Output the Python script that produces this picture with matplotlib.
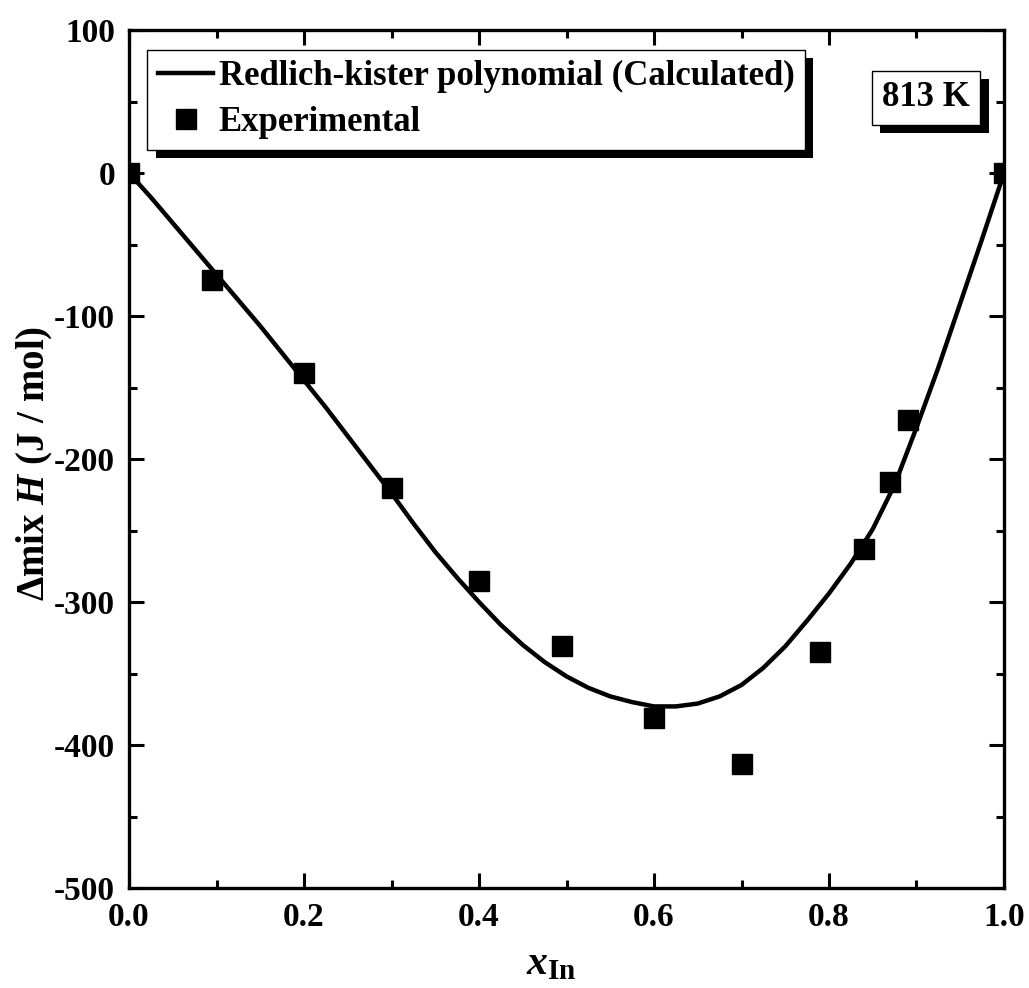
import numpy as np
import matplotlib
matplotlib.use("Agg")
import matplotlib.pyplot as plt
import matplotlib.patheffects as pe
from matplotlib.ticker import MultipleLocator

# experimental points
x_exp = [0.0, 0.095, 0.20, 0.30, 0.40, 0.495, 0.60, 0.70, 0.79, 0.84, 0.87, 0.89, 1.0]
h_exp = [0, -75, -140, -220, -285, -331, -381, -413, -335, -263, -216, -173, 0]

# calculated Redlich-Kister curve
x_calc = [0.0, 0.025, 0.05, 0.075, 0.10, 0.125, 0.15, 0.175, 0.20, 0.225, 0.25,
          0.275, 0.30, 0.325, 0.35, 0.375, 0.40, 0.425, 0.45, 0.475, 0.50,
          0.525, 0.55, 0.575, 0.60, 0.625, 0.65, 0.675, 0.70, 0.725, 0.75,
          0.775, 0.80, 0.825, 0.85, 0.875, 0.90, 0.925, 0.95, 0.975, 1.0]
h_calc = [0, -17, -35, -53, -71, -89, -107, -126, -145, -164, -184,
          -204, -224, -245, -265, -283, -300, -316, -330, -342, -352,
          -360, -366, -370, -373, -373, -371, -366, -358, -346, -331,
          -313, -294, -273, -249, -218, -178, -136, -91, -46, 0]

plt.rcParams['font.family'] = ['Liberation Serif', 'DejaVu Serif']
plt.rcParams['font.weight'] = 'bold'
plt.rcParams['mathtext.fontset'] = 'custom'
plt.rcParams['mathtext.rm'] = 'Liberation Serif:bold'
plt.rcParams['mathtext.it'] = 'Liberation Serif:italic:bold'
plt.rcParams['mathtext.bf'] = 'Liberation Serif:bold'
plt.rcParams['axes.unicode_minus'] = False

fig = plt.figure(figsize=(10.29, 9.88), dpi=100)
ax = fig.add_axes([0.1254, 0.1012, 0.8503, 0.8684])

ax.plot(x_calc, h_calc, color='black', lw=3.2, label='Redlich-kister polynomial (Calculated)')
ax.plot(x_exp, h_exp, 's', color='black', ms=14, ls='none', label='Experimental')

ax.set_xlim(0, 1.0)
ax.set_ylim(-500, 100)
ax.xaxis.set_major_locator(MultipleLocator(0.2))
ax.xaxis.set_minor_locator(MultipleLocator(0.1))
ax.yaxis.set_major_locator(MultipleLocator(100))
ax.yaxis.set_minor_locator(MultipleLocator(50))
ax.xaxis.set_major_formatter(plt.FormatStrFormatter('%.1f'))

ax.tick_params(which='both', direction='in', top=True, right=True, width=2.2,
               labelsize=24, pad=10)
ax.tick_params(which='major', length=11)
ax.tick_params(which='minor', length=6)
for s in ax.spines.values():
    s.set_linewidth(2.4)

ax.set_xlabel(r'$x_{\rm In}$', fontsize=30, labelpad=6)
ax.xaxis.set_label_coords(0.482, -0.066)
ax.set_ylabel(r'$\Delta$mix $H$ (J / mol)', fontsize=28, fontweight='bold', labelpad=4)
ax.yaxis.set_label_coords(-0.085, 0.495)

shadow = [pe.SimplePatchShadow(offset=(6, -6), shadow_rgbFace='black', alpha=1.0),
          pe.Normal()]

leg = ax.legend(loc='upper left', bbox_to_anchor=(0.021, 0.977), borderaxespad=0,
                prop={'size': 25, 'weight': 'bold'}, frameon=True, fancybox=False,
                handlelength=1.6, handletextpad=0.15, borderpad=0.3,
                labelspacing=0.38, framealpha=1)
leg.get_frame().set_edgecolor('black')
leg.get_frame().set_linewidth(1.0)
leg.get_frame().set_path_effects(shadow)

ax.text(0.911, 0.921, '813 K', transform=ax.transAxes, fontsize=25,
        ha='center', va='center',
        bbox=dict(boxstyle='square,pad=0.3', fc='white', ec='black', lw=1.0),
        zorder=5)
ax.texts[0].get_bbox_patch().set_path_effects(shadow)

fig.savefig('out.png', dpi=100)
